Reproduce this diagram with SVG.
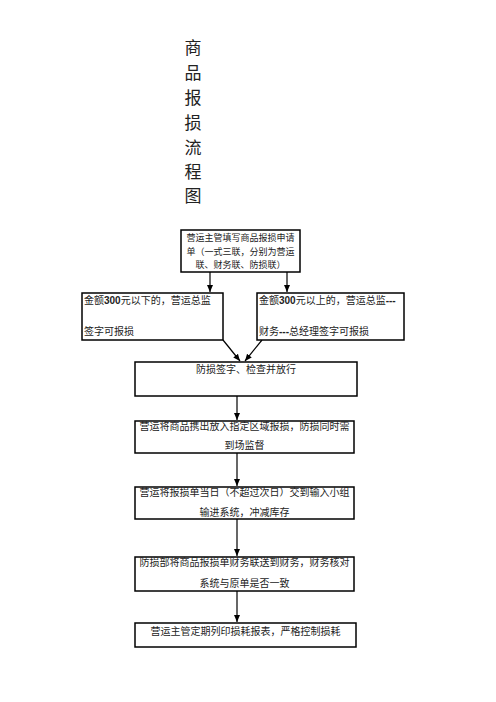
<svg xmlns="http://www.w3.org/2000/svg" width="496" height="702" viewBox="0 0 496 702">
<defs>
<style>
.box{fill:#fff;stroke:#000;stroke-width:1.5}
.t{font-family:"Noto Sans CJK SC","Noto Sans",sans-serif;font-size:10px;fill:#222}
.s{font-size:9px}
.c{text-anchor:middle}
.title{font-family:"Noto Sans CJK SC",sans-serif;font-size:17px;fill:#222;text-anchor:middle}
.ln{stroke:#000;stroke-width:1.2;fill:none}
.b{font-family:"Liberation Sans",sans-serif;font-weight:bold}
</style>
<marker id="ah" markerWidth="8" markerHeight="8" refX="7" refY="4" orient="auto" markerUnits="userSpaceOnUse">
<path d="M0,1 L7,4 L0,7 z" fill="#000"/>
</marker>
</defs>
<g id="title">
<text class="title" x="193" y="54">商</text>
<text class="title" x="193" y="79">品</text>
<text class="title" x="193" y="104">报</text>
<text class="title" x="193" y="129">损</text>
<text class="title" x="193" y="154">流</text>
<text class="title" x="193" y="178">程</text>
<text class="title" x="193" y="202">图</text>
</g>
<g id="connectors">
<line class="ln" x1="210" y1="272" x2="210" y2="292" marker-end="url(#ah)"/>
<line class="ln" x1="287" y1="272" x2="287" y2="292" marker-end="url(#ah)"/>
<line class="ln" x1="223" y1="340" x2="240" y2="361" marker-end="url(#ah)"/>
<line class="ln" x1="262" y1="340" x2="245" y2="361" marker-end="url(#ah)"/>
<line class="ln" x1="237" y1="396" x2="237" y2="420" marker-end="url(#ah)"/>
<line class="ln" x1="237" y1="453" x2="237" y2="486" marker-end="url(#ah)"/>
<line class="ln" x1="237" y1="519" x2="237" y2="556" marker-end="url(#ah)"/>
<line class="ln" x1="237" y1="591" x2="237" y2="622" marker-end="url(#ah)"/>
</g>
<g id="n1">
<rect class="box" x="181" y="230" width="119" height="42"/>
<text class="t s c" x="240.5" y="241">营运主管填写商品报损申请</text>
<text class="t s c" x="240.5" y="254.5">单（一式三联，分别为营运</text>
<text class="t s c" x="240.5" y="268">联、财务联、防损联）</text>
</g>
<g id="n2">
<rect class="box" x="82" y="293" width="141" height="47"/>
<text class="t" x="84" y="304">金额<tspan class="b">300</tspan>元以下的，营运总监</text>
<text class="t" x="84" y="335">签字可报损</text>
</g>
<g id="n3">
<rect class="box" x="257" y="293" width="147" height="47"/>
<text class="t" x="259" y="304">金额<tspan class="b">300</tspan>元以上的，营运总监<tspan class="b">---</tspan></text>
<text class="t" x="259" y="335">财务<tspan class="b">---</tspan>总经理签字可报损</text>
</g>
<g id="n4">
<rect class="box" x="135" y="362" width="222" height="34"/>
<text class="t c" x="246" y="373">防损签字、检查并放行</text>
</g>
<g id="n5">
<rect class="box" x="135" y="421" width="219" height="32"/>
<text class="t c" x="244.5" y="430">营运将商品携出放入指定区域报损，防损同时需</text>
<text class="t c" x="244.5" y="449">到场监督</text>
</g>
<g id="n6">
<rect class="box" x="135" y="487" width="219" height="32"/>
<text class="t c" x="244.5" y="496">营运将报损单当日（不超过次日）交到输入小组</text>
<text class="t c" x="244.5" y="516">输进系统，冲减库存</text>
</g>
<g id="n7">
<rect class="box" x="135" y="557" width="219" height="34"/>
<text class="t c" x="244.5" y="566">防损部将商品报损单财务联送到财务，财务核对</text>
<text class="t c" x="244.5" y="587">系统与原单是否一致</text>
</g>
<g id="n8">
<rect class="box" x="135" y="623" width="221" height="24"/>
<text class="t c" x="245.5" y="635">营运主管定期列印损耗报表，严格控制损耗</text>
</g>
</svg>
